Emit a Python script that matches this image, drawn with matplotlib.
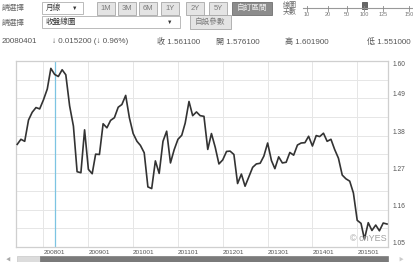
import matplotlib
matplotlib.use("Agg")
import matplotlib.pyplot as plt
import matplotlib.transforms as mtransforms
from matplotlib.patches import Rectangle
import pandas as pd

plt.rcParams['font.family'] = ['Liberation Sans', 'Noto Sans CJK TC', 'DejaVu Sans']

# monthly close, 100 points starting 2007-06
start_month = '2007-06-01'
n_points = 100
close = [
    1.3540, 1.3690, 1.3630, 1.4260, 1.4490, 1.4630, 1.4590,
    1.4860, 1.5180, 1.5790, 1.5611, 1.5550, 1.5750, 1.5600, 1.4680, 1.4080, 1.2730, 1.2700, 1.3970,
    1.2800, 1.2670, 1.3250, 1.3240, 1.4150, 1.4030, 1.4250, 1.4330, 1.4640, 1.4720, 1.4990, 1.4330,
    1.3860, 1.3630, 1.3510, 1.3290, 1.2280, 1.2230, 1.3050, 1.2680, 1.3630, 1.3930, 1.2990, 1.3380,
    1.3690, 1.3810, 1.4170, 1.4810, 1.4390, 1.4500, 1.4390, 1.4370, 1.3390, 1.3860, 1.3450, 1.2960,
    1.3080, 1.3330, 1.3340, 1.3240, 1.2380, 1.2660, 1.2300, 1.2580, 1.2860, 1.2960, 1.2980, 1.3190,
    1.3580, 1.3060, 1.2820, 1.3170, 1.2990, 1.3010, 1.3300, 1.3220, 1.3520, 1.3580, 1.3590, 1.3780,
    1.3490, 1.3800, 1.3770, 1.3870, 1.3630, 1.3690, 1.3390, 1.3130, 1.2630, 1.2520, 1.2450, 1.2100,
    1.1290, 1.1200, 1.0730, 1.1220, 1.0990, 1.1150, 1.0980, 1.1210, 1.1180,
]
selected_month = '2008-04-01'

xtick_months = ['2008-01-01', '2009-01-01', '2010-01-01', '2011-01-01',
                '2012-01-01', '2013-01-01', '2014-01-01', '2015-01-01']
xtick_labels = ['200801', '200901', '201001', '201101',
                '201201', '201301', '201401', '201501']
ytick_values = [1.05, 1.16, 1.27, 1.38, 1.49, 1.60]
ytick_labels = ['1.05', '1.16', '1.27', '1.38', '1.49', '1.60']

info_texts = ['20080401', '↓ 0.015200 (↓ 0.96%)', '收 1.561100',
              '開 1.576100', '高 1.601900', '低 1.551000']
range_buttons = ['1M', '3M', '6M', '1Y', '2Y', '5Y']
slider_labels = ['10', '20', '50', '100', '125', '150']

months = pd.date_range(start_month, periods=n_points, freq='MS')

W, H = 414, 262
fig = plt.figure(figsize=(W / 100, H / 100), dpi=100)


def fx(x):
    return x / W


def fy(y):
    return 1 - y / H


def box(x0, y0, x1, y1, fc, ec, lw=0.6):
    fig.patches.append(Rectangle((fx(x0), fy(y1)), (x1 - x0) / W, (y1 - y0) / H,
                                 transform=fig.transFigure, fc=fc, ec=ec, lw=lw))


def label(x, y, s, size=5.5, color='#666666', ha='left'):
    fig.text(fx(x), fy(y), s, fontsize=size, color=color, ha=ha, va='center')


# top controls
label(2, 8, '請選擇')
box(42, 2, 83, 14, 'white', '#b0b0b0')
label(46, 8, '月線', color='#333333')
label(75, 8, '▼', size=4, color='#333333', ha='center')
btn_x = [97, 118, 139, 161, 186, 209]
for x0, t in zip(btn_x, range_buttons):
    box(x0, 2, x0 + 18, 15, '#e4e4e4', '#a8a8a8')
    label(x0 + 9, 8.5, t, size=5.5, color='#7a7a7a', ha='center')
box(232, 2, 272, 15, '#8c8c8c', '#707070')
label(252, 8.5, '自訂區間', size=5.5, color='#f0f0f0', ha='center')

label(283, 5, '線圖', size=5, color='#666666')
label(283, 12, '天數', size=5, color='#666666')
fig.add_artist(plt.Line2D([fx(303), fx(414)], [fy(8), fy(8)], color='#999999', lw=0.8,
                          transform=fig.transFigure))
slider_x = [307, 328, 347, 364, 383, 409]
for sx, t in zip(slider_x, slider_labels):
    fig.add_artist(plt.Line2D([fx(sx), fx(sx)], [fy(5.5), fy(10.5)], color='#888888', lw=0.6,
                              transform=fig.transFigure))
    label(sx, 15, t, size=4, color='#777777', ha='center')
box(362, 2, 367, 9, '#666666', '#555555')

label(2, 23, '請選擇')
box(42, 16, 180, 28, 'white', '#b0b0b0')
label(46, 22, '收盤線圖', color='#333333')
label(170, 22, '▼', size=4, color='#333333', ha='center')
box(190, 15, 231, 29, '#e4e4e4', '#a8a8a8')
label(210.5, 22, '自設參數', size=5.5, color='#7a7a7a', ha='center')

info_x = [2, 52, 157, 216, 285, 367]
for x0, t in zip(info_x, info_texts):
    label(x0, 42, t, size=5.8, color='#555555')

# chart
ax = fig.add_axes([fx(16), fy(247), (388 - 16) / W, (247 - 61.3) / H])
ax.plot(months, close, color='#333333', lw=1.2, zorder=3)
ax.axvline(pd.Timestamp(selected_month), color='#7cc4e2', lw=0.9, zorder=2)

ax.set_xlim(months[0] - pd.Timedelta(days=10), months[-1] + pd.Timedelta(days=8))
ax.set_ylim(1.05, 1.60)

ax.set_xticks(pd.to_datetime(xtick_months))
ax.set_xticklabels(xtick_labels, ha='left')
ax.tick_params(axis='x', length=0, pad=2, labelsize=4.6, labelcolor='#555555')

grid_y = [1.05 + 0.055 * k for k in range(11)]
ax.set_yticks(grid_y)
ax.set_yticklabels([])
ax.tick_params(axis='y', length=0)
ax.grid(True, color='#e6e6e6', lw=0.7)
ax.set_axisbelow(True)

trans = mtransforms.blended_transform_factory(ax.transAxes, ax.transData)
for v, t in zip(ytick_values, ytick_labels):
    ax.text(1.013, v, t, transform=trans, fontsize=4.8, color='#555555',
            ha='left', va='top' if v == max(ytick_values) else 'bottom')

for s in ax.spines.values():
    s.set_color('#cfcfcf')
    s.set_linewidth(0.9)

ax.text(0.995, 0.02, '© cnYES', transform=ax.transAxes, fontsize=6.5, color='#a0a0a0',
        ha='right', va='bottom', zorder=4)

# bottom scrollbar
box(17, 256, 40, 262, '#dcdcdc', '#c0c0c0', lw=0.4)
box(40, 256, 388, 262, '#7a7a7a', '#6a6a6a', lw=0.4)
label(8, 259, '◀', size=3.5, color='#aaaaaa', ha='center')
label(401, 259, '▶', size=3.5, color='#cccccc', ha='center')

fig.savefig('out.png', dpi=100)
